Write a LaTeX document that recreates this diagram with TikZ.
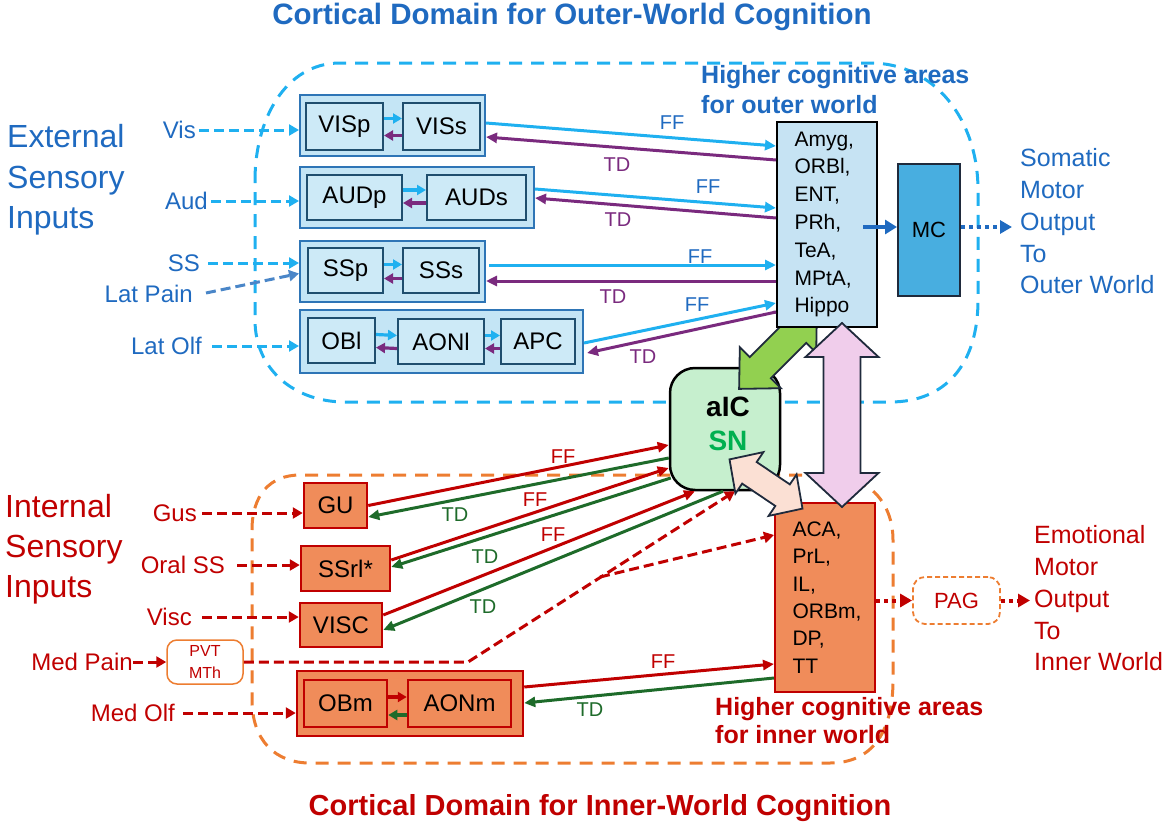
\documentclass[tikz,border=0pt]{standalone}
\usepackage{fontspec}
\setmainfont{Liberation Sans}
\usetikzlibrary{arrows.meta,calc}
\definecolor{skyb}{HTML}{1FB0F0}
\definecolor{txtb}{HTML}{1F6AC0}
\definecolor{latp}{HTML}{4A86C8}
\definecolor{purp}{HTML}{7A2A7E}
\definecolor{dred}{HTML}{C00000}
\definecolor{dgrn}{HTML}{1E6B2A}
\definecolor{orng}{HTML}{ED7D31}
\definecolor{ofill}{HTML}{F08C5A}
\definecolor{bfill}{HTML}{C4E5F5}
\definecolor{bfillb}{HTML}{CDEAF7}
\definecolor{bbord}{HTML}{2E75B6}
\definecolor{nbord}{HTML}{1F4E6E}
\definecolor{hfill}{HTML}{C6E3F3}
\definecolor{mcfill}{HTML}{48AEE0}
\definecolor{aicfill}{HTML}{C6EFCE}
\definecolor{sngreen}{HTML}{00B050}
\definecolor{grarr}{HTML}{92D050}
\definecolor{pinkA}{HTML}{F0CDEB}
\definecolor{peachA}{HTML}{FBE0D4}
\definecolor{outl}{HTML}{1F2A3C}
\newcommand{\dblarr}[7]{%
 \begin{scope}[shift={(#1)},rotate=#2]
 \pgfmathsetmacro{\hL}{#3/2}\pgfmathsetmacro{\sW}{#4/2}\pgfmathsetmacro{\hW}{#5/2}\pgfmathsetmacro{\aL}{#3/2-#6}
 \draw[#7] (-\hL,0) -- (-\aL,\hW) -- (-\aL,\sW) -- (\aL,\sW) -- (\aL,\hW) -- (\hL,0) -- (\aL,-\hW) -- (\aL,-\sW) -- (-\aL,-\sW) -- (-\aL,-\hW) -- cycle;
 \end{scope}}
\tikzset{
 gbox/.style={draw=bbord, line width=2pt, fill=bfill, inner sep=0pt},
 ibox/.style={draw=nbord, line width=2pt, fill=bfillb, inner sep=0pt, font=\fontsize{24}{28}\selectfont},
 obox/.style={draw=dred, line width=2.5pt, fill=ofill, inner sep=0pt, font=\fontsize{24}{28}\selectfont},
 ogbox/.style={draw=dred, line width=2.5pt, fill=ofill, inner sep=0pt},
 lab/.style={font=\fontsize{24}{28}\selectfont, inner sep=0pt},
 sml/.style={font=\fontsize{20}{22}\selectfont, inner sep=0pt},
 tip/.style={-{Triangle[length=11pt,width=10pt]}},
 inblue/.style={skyb, line width=3pt, dash pattern=on 10pt off 5pt, -{Triangle[length=10pt,width=11pt]}},
 inlat/.style={latp, line width=3pt, dash pattern=on 10pt off 5pt, -{Triangle[length=10pt,width=11pt]}},
 inred/.style={dred, line width=3pt, dash pattern=on 10pt off 5pt, -{Triangle[length=10pt,width=11pt]}},
 ffb/.style={skyb, line width=3pt, tip},
 tdp/.style={purp, line width=3pt, tip},
 ffr/.style={dred, line width=3pt, tip},
 tdg/.style={dgrn, line width=3pt, tip},
 sarr/.style={line width=3.2pt, -{Triangle[length=9pt,width=10pt]}},
 dotr/.style={dred, line width=4pt, dash pattern=on 4pt off 4pt, -{Triangle[length=12pt,width=13pt]}},
 dotb/.style={txtb, line width=4pt, dash pattern=on 4pt off 4pt, -{Triangle[length=12pt,width=13pt]}},
 bigarr/.style={draw=outl, line width=1.8pt, line join=miter},
}
\begin{document}
\begin{tikzpicture}[x=1pt,y=-1pt]
\useasboundingbox (0,0) rectangle (1170,827);

% domains
\draw[skyb, line width=3pt, dash pattern=on 13pt off 9pt]
 (255,180) .. controls (255,120) and (285,63) .. (340,63) -- (870,63)
 .. controls (935,63) and (978,120) .. (978,190) -- (978,300)
 .. controls (978,365) and (945,402) .. (890,402) -- (345,402)
 .. controls (295,402) and (255,370) .. (255,320) -- cycle;
\draw[orng, line width=3pt, dash pattern=on 13pt off 9pt]
 (252,530) .. controls (252,495) and (270,475) .. (300,475) -- (830,475)
 .. controls (865,475) and (893,500) .. (893,540) -- (893,680)
 .. controls (893,735) and (870,763) .. (830,763) -- (310,763)
 .. controls (275,763) and (252,740) .. (252,700) -- cycle;

% titles
\node[font=\bfseries\fontsize{29.5}{32}\selectfont, text=txtb, inner sep=0pt] (t1) at (572,17) {Cortical Domain for Outer-World Cognition};
\node[font=\bfseries\fontsize{29}{32}\selectfont, text=dred, inner sep=0pt] (t2) at (600,808) {Cortical Domain for Inner-World Cognition};
\node[anchor=west, align=left, text=txtb, font=\fontsize{32}{40.5}\selectfont, inner sep=0pt] (ext) at (7,180) {External\\Sensory\\Inputs};
\node[anchor=west, align=left, text=dred, font=\fontsize{32}{40}\selectfont, inner sep=0pt] (int) at (5,549) {Internal\\Sensory\\Inputs};
\node[anchor=west, align=left, text=txtb, font=\bfseries\fontsize{25}{30}\selectfont, inner sep=0pt] (hout) at (701,90) {Higher cognitive areas\\for outer world};
\node[anchor=west, align=left, text=txtb, font=\fontsize{25}{31.75}\selectfont, inner sep=0pt] (somo) at (1020,221.5) {Somatic\\Motor\\Output\\To\\Outer World};
\node[anchor=west, align=left, text=dred, font=\fontsize{25}{31.75}\selectfont, inner sep=0pt] (emo) at (1034,598.5) {Emotional\\Motor\\Output\\To\\Inner World};

% outer-world sensory boxes
\node[gbox, minimum width=185pt, minimum height=61pt] (VISg) at (392.5,125.5) {};
\node[ibox, minimum width=77pt, minimum height=47pt] (VISp) at (344.5,126.5) {VISp};
\node[ibox, minimum width=77pt, minimum height=47pt] (VISs) at (441.5,126.5) {VISs};
\node[gbox, minimum width=234pt, minimum height=61pt] (AUDg) at (417,197.5) {};
\node[ibox, minimum width=95pt, minimum height=45pt] (AUDp) at (354.5,197.5) {AUDp};
\node[ibox, minimum width=99pt, minimum height=45pt] (AUDs) at (476.5,197.5) {AUDs};
\node[gbox, minimum width=185pt, minimum height=61pt] (SSg) at (392.5,271.5) {};
\node[ibox, minimum width=75pt, minimum height=45pt] (SSp) at (345.5,270.5) {SSp};
\node[ibox, minimum width=76pt, minimum height=45pt] (SSs) at (441,270.5) {SSs};
\node[gbox, minimum width=283pt, minimum height=63pt] (OLFg) at (441.5,341.5) {};
\node[ibox, minimum width=67pt, minimum height=45pt] (OBl) at (341.5,340.5) {OBl};
\node[ibox, minimum width=86pt, minimum height=45pt] (AONl) at (441,341.5) {AONl};
\node[ibox, minimum width=74pt, minimum height=45pt] (APC) at (538,341.5) {APC};

% inner-world sensory boxes
\node[obox, minimum width=63pt, minimum height=45pt] (GU) at (335.5,505.5) {GU};
\node[obox, minimum width=89pt, minimum height=45pt] (SSrl) at (345.5,568.5) {SSrl*};
\node[obox, minimum width=82pt, minimum height=44pt] (VISC) at (341,625) {VISC};
\node[draw=orng, line width=1.5pt, rounded corners=10pt, fill=white, minimum width=76pt, minimum height=44pt, align=center, text=dred, font=\fontsize{16}{22}\selectfont, inner sep=0pt] (PVT) at (205,662) {PVT\\MTh};
\node[ogbox, minimum width=226pt, minimum height=65pt] (OBmg) at (410,703.5) {};
\node[obox, minimum width=83pt, minimum height=47pt] (OBm) at (345.5,703.5) {OBm};
\node[obox, minimum width=103pt, minimum height=47pt] (AONm) at (459.5,703.5) {AONm};

% aIC and higher areas
\node[draw=black, line width=2.5pt, fill=aicfill, rounded corners=25pt, minimum width=110pt, minimum height=122pt] (aIC) at (725,429) {};
\node[font=\bfseries\fontsize{28}{30}\selectfont, inner sep=0pt] (aICt) at (728,407) {aIC};
\node[font=\bfseries\fontsize{28}{30}\selectfont, text=sngreen, inner sep=0pt] (SNt) at (728,441) {SN};
\dblarr{778,350}{45}{110}{30}{58}{30}{bigarr, fill=grarr}
\node[draw=black, line width=2pt, fill=hfill, minimum width=100pt, minimum height=205pt, text width=65pt, inner xsep=17pt, inner ysep=0pt, align=left, font=\fontsize{21}{27.8}\selectfont] (H) at (827,224.5) {Amyg,\\ORBl,\\ENT,\\PRh,\\TeA,\\MPtA,\\Hippo};
\node[draw=outl, line width=2pt, fill=mcfill, minimum width=62pt, minimum height=132pt, font=\fontsize{22}{26}\selectfont, inner sep=0pt] (MC) at (929,230) {MC};
\node[draw=dred, line width=2pt, fill=ofill, minimum width=100pt, minimum height=189pt, text width=65pt, inner xsep=17pt, inner ysep=0pt, align=left, font=\fontsize{21}{27.4}\selectfont] (ACA) at (825,597.5) {ACA,\\PrL,\\IL,\\ORBm,\\DP,\\TT};
\node[draw=orng, line width=1.8pt, dash pattern=on 5pt off 3pt, rounded corners=12pt, fill=white, minimum width=87pt, minimum height=47pt, text=dred, font=\fontsize{22}{26}\selectfont, inner sep=0pt] (PAG) at (956.5,600.5) {PAG};
\node[anchor=west, align=left, text=dred, font=\bfseries\fontsize{25}{28}\selectfont, inner sep=0pt] (hin) at (715,721) {Higher cognitive areas\\for inner world};

% external inputs
\node[lab, anchor=east, text=txtb] (Vis) at (196,130) {Vis};
\node[lab, anchor=east, text=txtb] (Aud) at (208,201) {Aud};
\node[lab, anchor=east, text=txtb] (SS) at (200,263) {SS};
\node[lab, anchor=east, text=txtb] (LatP) at (193,294) {Lat Pain};
\node[lab, anchor=east, text=txtb] (LatO) at (202,346) {Lat Olf};
\draw[inblue] ([xshift=3pt]Vis.east) -- (VISg.west |- Vis.east);
\draw[inblue] ([xshift=3pt]Aud.east) -- (AUDg.west |- Aud.east);
\draw[inblue] ([xshift=8pt]SS.east) -- (SSg.west |- SS.east);
\draw[inlat] ([xshift=13pt,yshift=1pt]LatP.east) -- ([yshift=-2pt]SSg.west);
\draw[inblue] ([xshift=10pt]LatO.east) -- (OLFg.west |- LatO.east);

% internal inputs
\node[lab, anchor=east, text=dred] (Gus) at (197,513) {Gus};
\node[lab, anchor=east, text=dred] (OralSS) at (225,565) {Oral SS};
\node[lab, anchor=east, text=dred] (Visc) at (192,617) {Visc};
\node[lab, anchor=east, text=dred] (MedP) at (133,662) {Med Pain};
\node[lab, anchor=east, text=dred] (MedO) at (175,713) {Med Olf};
\draw[inred] ([xshift=5pt]Gus.east) -- (GU.west |- Gus.east);
\draw[inred] ([xshift=12pt]OralSS.east) -- (SSrl.west |- OralSS.east);
\draw[inred] ([xshift=10pt]Visc.east) -- (VISC.west |- Visc.east);
\draw[inred] (MedP.east) -- (PVT.west);
\draw[inred] ([xshift=8pt]MedO.east) -- (OBmg.west |- MedO.east);

% small internal arrows
\draw[sarr, skyb] ([yshift=8pt]VISp.east) -- ([yshift=8pt]VISs.west);
\draw[sarr, purp] ([yshift=-9pt]VISs.west) -- ([yshift=-9pt]VISp.east);
\draw[sarr, skyb] ([yshift=7.5pt]AUDp.east) -- ([yshift=7.5pt]AUDs.west);
\draw[sarr, purp] ([yshift=-5.5pt]AUDs.west) -- ([yshift=-5.5pt]AUDp.east);
\draw[sarr, skyb] ([yshift=6pt]SSp.east) -- ([yshift=6pt]SSs.west);
\draw[sarr, purp] ([yshift=-8pt]SSs.west) -- ([yshift=-8pt]SSp.east);
\draw[sarr, skyb] ([yshift=6pt]OBl.east) -- ([yshift=6pt]AONl.west);
\draw[sarr, purp] ([yshift=-7pt]AONl.west) -- ([yshift=-7pt]OBl.east);
\draw[sarr, skyb] ([yshift=6pt]AONl.east) -- ([yshift=6pt]APC.west);
\draw[sarr, purp] ([yshift=-7pt]APC.west) -- ([yshift=-7pt]AONl.east);
\draw[sarr, dred] ([yshift=6.5pt]OBm.east) -- ([yshift=6.5pt]AONm.west);
\draw[sarr, dgrn] ([yshift=-11.5pt]AONm.west) -- ([yshift=-11.5pt]OBm.east);

% FF / TD outer world
\draw[ffb] ([yshift=2.5pt]VISg.east) -- ([yshift=78.5pt]H.west);
\draw[tdp] ([yshift=64.5pt]H.west) -- ([yshift=-11.5pt]VISg.east);
\draw[ffb] ([yshift=8.5pt]AUDg.east) -- ([yshift=16.5pt]H.west);
\draw[tdp] ([yshift=6.5pt]H.west) -- ([yshift=-0.5pt]AUDg.east);
\draw[ffb] ([xshift=3pt,yshift=6.5pt]SSg.east) -- ([yshift=-40.5pt]H.west);
\draw[tdp] ([yshift=-56.5pt]H.west) -- ([yshift=-9.5pt]SSg.east);
\draw[ffb] ([yshift=-1.5pt]OLFg.east) -- ([yshift=-78.5pt]H.west);
\draw[tdp] ([yshift=-87.5pt]H.west) -- ([xshift=3pt,yshift=-11.5pt]OLFg.east);
\node[sml, text=txtb] (ff1) at (672,123) {FF};
\node[sml, text=purp] (td1) at (617,165) {TD};
\node[sml, text=txtb] (ff2) at (708,187) {FF};
\node[sml, text=purp] (td2) at (618,220) {TD};
\node[sml, text=txtb] (ff3) at (700,257) {FF};
\node[sml, text=purp] (td3) at (613,297) {TD};
\node[sml, text=txtb] (ff4) at (697,305) {FF};
\node[sml, text=purp] (td4) at (643,357) {TD};

% FF / TD inner world
\draw[ffr] (GU.east) -- ([yshift=-16pt]aIC.west);
\draw[tdg] ([yshift=-29pt]aIC.west) -- ([yshift=-11.5pt]GU.east);
\draw[ffr] ([yshift=8.5pt]SSrl.east) -- ([yshift=-39pt]aIC.west);
\draw[tdg] ([xshift=2pt,yshift=-49pt]aIC.west) -- ([yshift=1.5pt]SSrl.east);
\draw[ffr] ([yshift=10pt]VISC.east) -- ([xshift=-30pt]aIC.south);
\draw[tdg] ([xshift=-2pt]aIC.south) -- ([yshift=-5pt]VISC.east);
\draw[ffr] ([yshift=16.5pt]OBmg.east) -- ([yshift=-66.5pt]ACA.west);
\draw[tdg] ([yshift=-80.5pt]ACA.west) -- ([yshift=0.5pt]OBmg.east);
\node[sml, text=dred] (ff5) at (563,457) {FF};
\node[sml, text=dgrn] (td5) at (455,515) {TD};
\node[sml, text=dred] (ff6) at (535,500) {FF};
\node[sml, text=dgrn] (td6) at (485,557) {TD};
\node[sml, text=dred] (ff7) at (553,535) {FF};
\node[sml, text=dgrn] (td7) at (483,607) {TD};
\node[sml, text=dred] (ff8) at (663,662) {FF};
\node[sml, text=dgrn] (td8) at (590,710) {TD};

% pain pathway
\coordinate (bend) at (468,662);
\coordinate (br) at (600,577);
\draw[inred] (PVT.east) -- (bend) -- ([xshift=10pt]aIC.south);
\draw[inred] (br) -- ([yshift=62.5pt]ACA.west);

% outputs
\draw[txtb, line width=4pt, -{Triangle[length=12pt,width=14pt]}] ([xshift=-15pt,yshift=-2.5pt]H.east) -- ([yshift=3pt]MC.west);
\coordinate (mcout) at (1012,227);
\draw[dotb] ([yshift=3pt]MC.east) -- (mcout);
\draw[dotr] (PAG.west -| ACA.east) -- (PAG.west);
\coordinate (pagout) at (1030,600.5);
\draw[dotr] (PAG.east) -- (pagout);

% big double arrows
\dblarr{842,415}{90}{184}{37}{73}{34}{bigarr, fill=pinkA}
\dblarr{766,484}{-34}{88}{26}{50}{24}{bigarr, fill=peachA}
\end{tikzpicture}
\end{document}
